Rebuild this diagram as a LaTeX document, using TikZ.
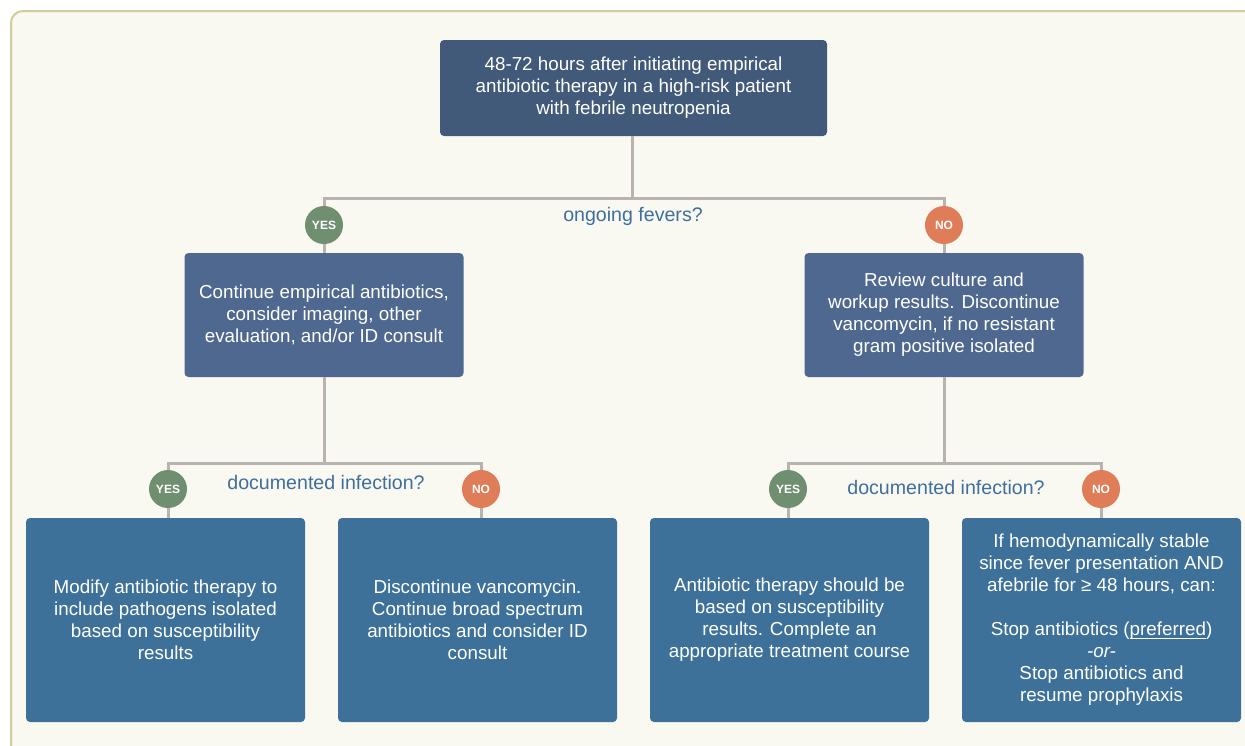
\documentclass[tikz,border=0pt]{standalone}
\usepackage{fontspec}
\setmainfont{Liberation Sans}
\usepackage{xcolor}
\usetikzlibrary{positioning}

\definecolor{panelbg}{HTML}{F9F8F1}
\definecolor{panelrim}{HTML}{D4CA9B}
\definecolor{topblue}{HTML}{425A7A}
\definecolor{midblue}{HTML}{4F6890}
\definecolor{lowblue}{HTML}{3E7199}
\definecolor{linkgray}{HTML}{BAB2AE}
\definecolor{yesgreen}{HTML}{6F8F70}
\definecolor{noorange}{HTML}{DE7D57}
\definecolor{asktext}{HTML}{3F6F9C}

% underline close to the baseline
\newcommand\lowline[1]{\setbox0\hbox{#1}\rlap{\rule[-1.3pt]{\wd0}{0.45pt}}\box0}

\begin{document}
\begin{tikzpicture}[x=0.5pt,y=-0.5pt,
  box/.style={rounded corners=2pt,text=white,align=center,inner sep=0pt,
    font=\fontsize{9.4}{11}\selectfont},
  topbox/.style={box,fill=topblue,minimum width=193.5pt,minimum height=48pt},
  midbox/.style={box,fill=midblue,minimum width=139.5pt,minimum height=62pt},
  lowbox/.style={box,fill=lowblue,minimum width=139.5pt,minimum height=102pt},
  yesdot/.style={circle,fill=yesgreen,text=white,minimum size=19pt,inner sep=0pt,
    font=\fontsize{6}{7}\selectfont\bfseries},
  nodot/.style={yesdot,fill=noorange},
  ask/.style={text=asktext,font=\fontsize{9.8}{11}\selectfont},
  link/.style={draw=linkgray,line width=1.5pt}]
  % panel behind the flowchart
  \useasboundingbox (0,0) rectangle (1245,745);
  \draw[panelrim,fill=panelbg,line width=1pt,rounded corners=6pt] (11,11) rectangle (1270,770);

  % boxes
  \node[topbox] (start) at (633.5,88) {48-72 hours after initiating empirical\\
    antibiotic therapy in a high-risk patient\\with febrile neutropenia};

  \node[midbox] (fever) at (324,315) {Continue empirical antibiotics,\\
    consider imaging, other\\evaluation, and/or ID consult};
  \node[midbox] (review) at (944,315) {Review culture and\\workup results. Discontinue\\
    vancomycin, if no resistant\\gram positive isolated};

  \node[lowbox] (modify) at (165.5,620) {Modify antibiotic therapy to\\
    include pathogens isolated\\based on susceptibility\\results};
  \node[lowbox] (broad) at (477.5,620) {Discontinue vancomycin.\\
    Continue broad spectrum\\antibiotics and consider ID\\consult};
  \node[lowbox] (course) at (789.5,620) {Antibiotic therapy should be\\
    based on susceptibility\\results. Complete an\\appropriate treatment course};
  \node[lowbox] (stop) at (1101.5,620) {If hemodynamically stable\\
    since fever presentation AND\\afebrile for ≥ 48 hours, can:\\[11pt]
    Stop antibiotics (\lowline{preferred})\\\textit{-or-}\\
    Stop antibiotics and\\resume prophylaxis};

  % answer dots
  \node[yesdot] (yesA) at (324,225) {YES};
  \node[nodot]  (noA)  at (944,225) {NO};
  \node[yesdot] (yesB) at (168,489) {YES};
  \node[nodot]  (noB)  at (481,489) {NO};
  \node[yesdot] (yesC) at (788,489) {YES};
  \node[nodot]  (noC)  at (1101,489) {NO};

  % questions
  \node[ask] (askA) at (633,216) {ongoing fevers?};
  \node[ask] (askB) at (326,482) {documented infection?};
  \node[ask] (askC) at (946,487) {documented infection?};

  % connectors
  \coordinate (splitA) at (632,198);
  \coordinate (splitB) at (324,463);
  \coordinate (splitC) at (944,463);

  \draw[link] (start.south -| splitA) -- (splitA);
  \draw[link] (yesA.north) |- (splitA) -| (noA.north);
  \draw[link] (yesA.south) -- (fever.north -| yesA);
  \draw[link] (noA.south) -- (review.north -| noA);

  \draw[link] (fever.south -| splitB) -- (splitB);
  \draw[link] (yesB.north) |- (splitB) -| (noB.north);
  \draw[link] (yesB.south) -- (modify.north -| yesB);
  \draw[link] (noB.south) -- (broad.north -| noB);

  \draw[link] (review.south -| splitC) -- (splitC);
  \draw[link] (yesC.north) |- (splitC) -| (noC.north);
  \draw[link] (yesC.south) -- (course.north -| yesC);
  \draw[link] (noC.south) -- (stop.north -| noC);
\end{tikzpicture}
\end{document}
